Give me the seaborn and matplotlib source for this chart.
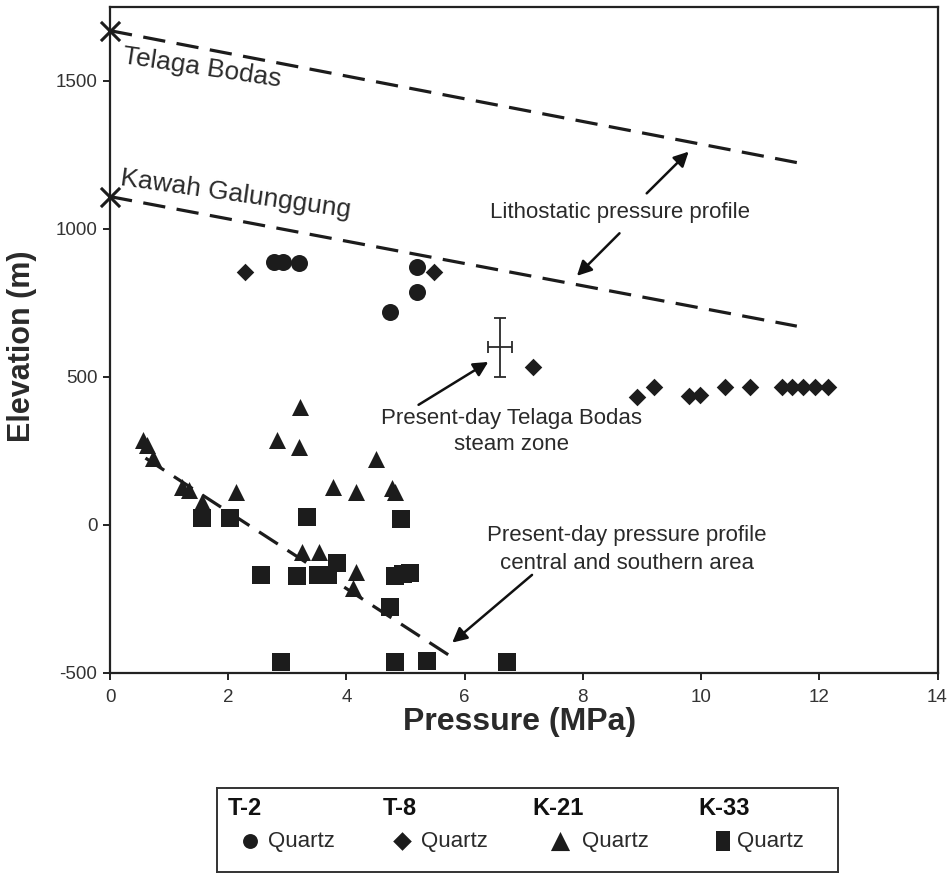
import matplotlib
matplotlib.use("Agg")
import matplotlib.pyplot as plt
import seaborn as sns

# ---------------- data ----------------
t2_pressure = [2.77, 2.93, 3.19, 5.20, 5.20, 4.74]
t2_elev = [887, 887, 884, 872, 788, 718]

t8_pressure = [2.28, 5.49, 7.15, 8.91, 9.20, 9.79, 9.98, 10.41, 10.83,
               11.37, 11.53, 11.73, 11.93, 12.15]
t8_elev = [855, 853, 534, 431, 464, 436, 438, 464, 464, 464, 464, 464, 464, 464]

k21_pressure = [0.55, 0.62, 0.73, 1.21, 1.33, 1.55, 2.14, 2.82, 3.21, 3.20,
                3.77, 4.16, 4.50, 4.77, 4.82, 3.24, 3.53, 4.16, 4.11]
k21_elev = [286, 269, 224, 128, 117, 78, 111, 286, 399, 263,
            128, 111, 221, 123, 111, -92, -92, -159, -215]

k33_pressure = [1.55, 2.03, 3.34, 4.92, 2.55, 3.17, 3.52, 3.69, 3.84, 4.82,
                4.96, 5.08, 4.74, 2.89, 4.82, 5.36, 6.71]
k33_elev = [21, 21, 27, 18, -170, -174, -170, -170, -131, -174,
            -168, -165, -280, -463, -463, -460, -463]

litho_tb_pressure = [0.0, 11.62]
litho_tb_elev = [1670, 1224]
litho_kg_pressure = [0.0, 11.62]
litho_kg_elev = [1109, 671]
present_pressure = [0.6, 5.8]
present_elev = [225, -450]

steam_pressure, steam_elev = 6.6, 600
steam_perr, steam_eerr = 0.2, 100

wells = ["T-2", "T-8", "K-21", "K-33"]
mineral = "Quartz"

# ---------------- style ----------------
sns.set_style("white")
plt.rcParams["font.family"] = ["Liberation Sans", "DejaVu Sans"]
plt.rcParams["axes.unicode_minus"] = False
INK = "#1c1c1c"
TXT = "#2a2a2a"

fig = plt.figure(figsize=(9.51, 8.75), dpi=100)
W, H = 951, 875
ax = fig.add_axes([110 / W, 1 - 672.5 / H, (937.5 - 110) / W, (672.5 - 7) / H])

# lines
dash = (0, (7, 3.6))
for xs, ys in [(litho_tb_pressure, litho_tb_elev),
               (litho_kg_pressure, litho_kg_elev),
               (present_pressure, present_elev)]:
    sns.lineplot(x=xs, y=ys, ax=ax, color=INK, linewidth=2.3, linestyle=dash,
                 sort=False, estimator=None, legend=False)

# start crosses of lithostatic profiles
sns.scatterplot(x=[litho_tb_pressure[0], litho_kg_pressure[0]],
                y=[litho_tb_elev[0], litho_kg_elev[0]], ax=ax, marker="x",
                s=190, color=INK, linewidth=2.2, clip_on=False, zorder=5, legend=False)

# data points
series = [
    (t2_pressure, t2_elev, "o", 150),
    (t8_pressure, t8_elev, "D", 80),
    (k21_pressure, k21_elev, "^", 150),
    (k33_pressure, k33_elev, "s", 160),
]
for xs, ys, mk, sz in series:
    sns.scatterplot(x=xs, y=ys, ax=ax, marker=mk, s=sz, color=INK,
                    linewidth=0, zorder=4, legend=False, clip_on=False)

# steam zone error cross
ax.errorbar(steam_pressure, steam_elev, xerr=steam_perr, yerr=steam_eerr,
            fmt="none", ecolor=TXT, elinewidth=1.3, capsize=4, capthick=1.3)

ax.set_xlim(0, 14)
ax.set_ylim(-500, 1750)
ax.set_xticks(range(0, 15, 2))
ax.set_yticks([-500, 0, 500, 1000, 1500])
for sp in ax.spines.values():
    sp.set_visible(True)
    sp.set_linewidth(1.6)
    sp.set_color("#222222")
ax.tick_params(axis="both", direction="out", length=5, width=1.4,
               colors="#222222", labelsize=13.5, labelcolor="#333333", pad=4,
               bottom=True, left=True)
ax.tick_params(axis="x", pad=7)

ax.set_xlabel("Pressure (MPa)", fontsize=23, fontweight="bold", color=TXT)
ax.set_ylabel("Elevation (m)", fontsize=22, fontweight="bold", color=TXT)
ax.xaxis.set_label_coords(0.495, -0.052)
ax.yaxis.set_label_coords(-0.088, 0.49)

# annotations
ax.text(1.56, 1544, "Telaga Bodas", fontsize=19, color=TXT, rotation=-8.5,
        rotation_mode="anchor", ha="center", va="center")
ax.text(2.13, 1118, "Kawah Galunggung", fontsize=19, color=TXT, rotation=-8,
        rotation_mode="anchor", ha="center", va="center")

ax.text(8.63, 1054, "Lithostatic pressure profile", fontsize=16, color=TXT,
        ha="center", va="center")
ax.text(6.79, 314, "Present-day Telaga Bodas\nsteam zone", fontsize=16,
        color=TXT, ha="center", va="center", linespacing=1.3)
ax.text(8.74, -84, "Present-day pressure profile\ncentral and southern area",
        fontsize=16, color=TXT, ha="center", va="center", linespacing=1.4)

arrow = dict(arrowstyle="-|>,head_length=0.55,head_width=0.28", lw=1.8,
             color="#111111", shrinkA=0, shrinkB=0)
for tail, head in [((9.08, 1120), (9.79, 1261)),
                   ((8.62, 985), (7.90, 841)),
                   ((5.22, 405), (6.40, 550)),
                   ((7.14, -170), (5.79, -399))]:
    ax.annotate("", xy=head, xytext=tail, arrowprops=arrow, fontsize=16)

# ---------------- legend box ----------------
lx0, lx1, ly0, ly1 = 217, 838, 788, 872
lax = fig.add_axes([lx0 / W, 1 - ly1 / H, (lx1 - lx0) / W, (ly1 - ly0) / H])
lax.set_xlim(lx0, lx1)
lax.set_ylim(ly1, ly0)
lax.set_xticks([])
lax.set_yticks([])
lax.set_facecolor("white")
for sp in lax.spines.values():
    sp.set_visible(True)
    sp.set_linewidth(1.4)
    sp.set_color("#333333")

head_x = [228, 383, 532, 698]
mark_x = [250, 401.7, 559.5, 722.7]
text_x = [268, 420.7, 582, 737]
leg_marks = [("o", 115), ("D", 90), ("^", 190),
             ([(-0.38, -0.5), (0.38, -0.5), (0.38, 0.5), (-0.38, 0.5)], 190)]
for name, hx, mx, tx, (mk, sz) in zip(wells, head_x, mark_x, text_x, leg_marks):
    lax.text(hx, 808, name, fontsize=17, fontweight="bold", color="#111111",
             ha="left", va="center")
    lax.scatter([mx], [841], marker=mk, s=sz, color=INK, linewidths=0)
    lax.text(tx, 841, mineral, fontsize=16, color=TXT, ha="left", va="center")

fig.savefig("out.png", dpi=100, facecolor="white")
